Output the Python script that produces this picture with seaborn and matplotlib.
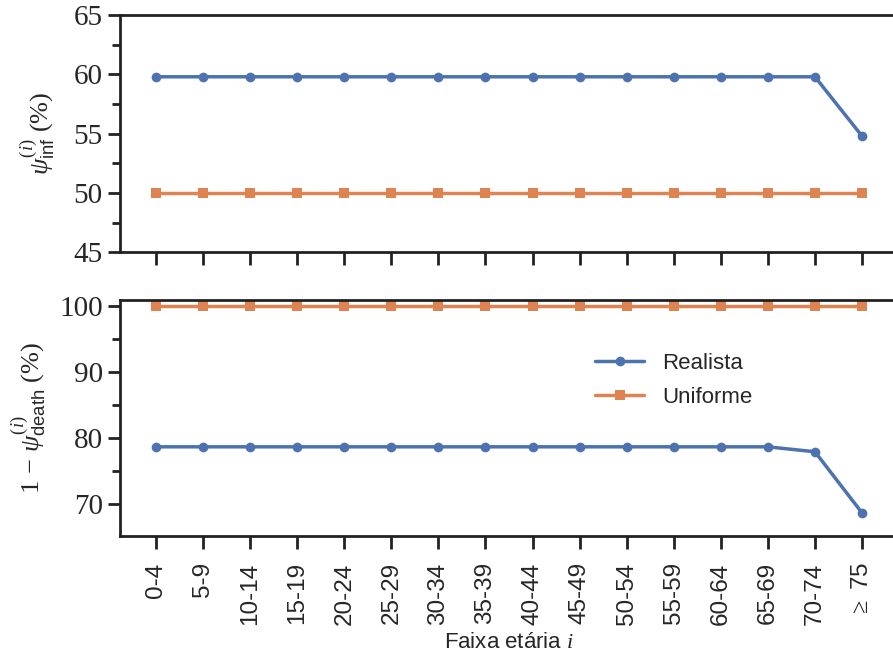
import numpy as np
import pandas as pd
import seaborn as sns
import matplotlib.pyplot as plt
from matplotlib.ticker import MultipleLocator

age_groups = ["0-4", "5-9", "10-14", "15-19", "20-24", "25-29", "30-34", "35-39",
              "40-44", "45-49", "50-54", "55-59", "60-64", "65-69", "70-74", r"$\geq$ 75"]
psi_inf_realista = [59.8] * 15 + [54.8]
psi_inf_uniforme = [50.0] * 16
surv_realista = [78.6] * 14 + [77.85, 68.6]
surv_uniforme = [100.0] * 16
series_names = ["Realista", "Uniforme"]

sns.set_theme(style="ticks", context="talk")
plt.rcParams["mathtext.fontset"] = "custom"
plt.rcParams["mathtext.rm"] = "Liberation Serif"
plt.rcParams["mathtext.it"] = "Liberation Serif:italic"
plt.rcParams["mathtext.bf"] = "Liberation Serif:bold"
plt.rcParams["mathtext.sf"] = "Liberation Sans"
plt.rcParams["font.family"] = ["Liberation Sans", "DejaVu Sans"]

pos = list(range(len(age_groups)))
df_top = pd.DataFrame({
    "x": pos * 2,
    "y": psi_inf_realista + psi_inf_uniforme,
    "Modelo": [series_names[0]] * 16 + [series_names[1]] * 16,
})
df_bot = pd.DataFrame({
    "x": pos * 2,
    "y": surv_realista + surv_uniforme,
    "Modelo": [series_names[0]] * 16 + [series_names[1]] * 16,
})

palette = {"Realista": "#4C72B0", "Uniforme": "#DD8452"}
markers = {"Realista": "o", "Uniforme": "s"}

fig = plt.figure(figsize=(8.93, 6.6), dpi=100)
ax1 = fig.add_axes([0.1344, 0.618, 1.0056 - 0.1344, 0.977 - 0.618])
ax2 = fig.add_axes([0.1344, 0.188, 1.0056 - 0.1344, 0.546 - 0.188])

for ax, df in ((ax1, df_top), (ax2, df_bot)):
    sns.lineplot(data=df, x="x", y="y", hue="Modelo", style="Modelo",
                 palette=palette, markers=markers, dashes=False,
                 linewidth=2.5, markersize=7, markeredgewidth=0,
                 ax=ax, legend=(ax is ax2))
    ax.set_xlim(-0.765, 15.765)
    ax.set_xticks(pos)
    ax.set_xlabel("")
    for s in ax.spines.values():
        s.set_linewidth(2.0)
        s.set_color("#222222")
    ax.tick_params(which="major", length=9, width=2.0, color="#222222")
    ax.tick_params(which="minor", length=6, width=2.0, color="#222222")

serif_family = ["Liberation Serif", "DejaVu Serif"]
ax1.set_ylim(45, 65)
ax1.yaxis.set_major_locator(MultipleLocator(5))
ax1.yaxis.set_minor_locator(MultipleLocator(2.5))
ax1.set_xticklabels([])
ax1.set_ylabel(r"$\psi^{(i)}_{\mathsf{inf}}$ (%)", fontdict={"family": serif_family, "size": 19}, labelpad=12)

ax2.set_ylim(65.1, 100.9)
ax2.yaxis.set_major_locator(MultipleLocator(10))
ax2.yaxis.set_minor_locator(MultipleLocator(5))
ax2.set_xticklabels(age_groups, rotation=90, fontsize=17.5)
ax2.tick_params(axis="x", pad=10)
ax2.set_ylabel(r"$1\,-\,\psi^{(i)}_{\mathsf{death}}$ (%)", fontdict={"family": serif_family, "size": 19}, labelpad=8)
ax2.set_xlabel(r"Faixa etária $i$", fontsize=16, labelpad=5)

for ax in (ax1, ax2):
    for lab in ax.get_yticklabels():
        lab.set_fontfamily(serif_family)
        lab.set_fontsize(21)

leg = ax2.legend(frameon=False, fontsize=16, loc="upper left",
                 bbox_to_anchor=(0.585, 0.86), handlelength=2.2, labelspacing=0.6)
for line in leg.get_lines():
    line.set_linewidth(2.5)

fig.savefig("out.png", dpi=100)
